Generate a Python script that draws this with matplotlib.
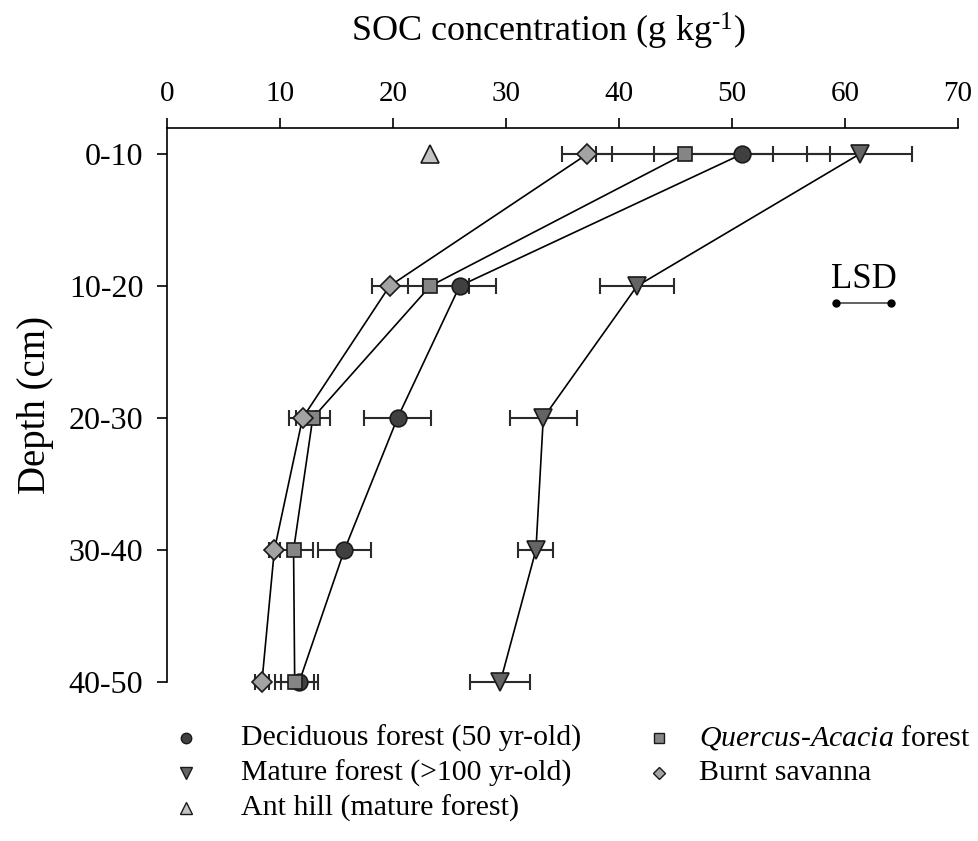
import numpy as np
import matplotlib
matplotlib.use('Agg')
import matplotlib.pyplot as plt
from matplotlib.lines import Line2D

# шрифт как у Times
plt.rcParams['font.family'] = ['Liberation Serif', 'DejaVu Serif']
plt.rcParams['mathtext.fontset'] = 'custom'
plt.rcParams['mathtext.rm'] = 'Liberation Serif'
plt.rcParams['mathtext.it'] = 'Liberation Serif:italic'

depth_labels = ['0-10', '10-20', '20-30', '30-40', '40-50']
depth_mid = [5, 15, 25, 35, 45]

deciduous = [50.9, 25.9, 20.4, 15.7, 11.7]
deciduous_err = [7.8, 3.25, 3.0, 2.35, 1.65]
mature = [61.3, 41.6, 33.3, 32.65, 29.5]
mature_err = [4.65, 3.25, 2.95, 1.55, 2.65]
quercus = [45.8, 23.3, 12.9, 11.2, 11.3]
quercus_err = [7.8, 3.4, 1.5, 1.7, 1.7]
savanna = [37.2, 19.7, 12.0, 9.5, 8.4]
savanna_err = [2.2, 1.6, 1.2, 0.5, 0.65]
ant_hill = [23.3]
ant_hill_depth = [5]

lsd_value = 4.9
lsd_x = 59.2
lsd_y = 16.3

fig = plt.figure(figsize=(9.79, 8.41), dpi=100)
ax = fig.add_axes([0.1706, 0.1891, 0.8079, 0.6587])

series = [
    (deciduous, deciduous_err, 'o', '#404040', 12, 'Deciduous forest (50 yr-old)'),
    (mature, mature_err, 'v', '#646464', 13, 'Mature forest (>100 yr-old)'),
    (quercus, quercus_err, 's', '#858585', 10, r'$\it{Quercus}$-$\it{Acacia}$ forest'),
    (savanna, savanna_err, 'D', '#a3a3a3', 10, 'Burnt savanna'),
]

for vals, err, mk, col, ms, lab in series:
    ax.plot(vals, depth_mid, color='black', lw=1.2, zorder=2, clip_on=False)
    eb = ax.errorbar(vals, depth_mid, xerr=err, fmt='none', ecolor='#2a2a2a',
                     elinewidth=1.5, capsize=6, capthick=1.5, zorder=3)
    for c in eb.get_children():
        c.set_clip_on(False)

for vals, err, mk, col, ms, lab in series:
    ax.plot(vals, depth_mid, ls='none', marker=mk, ms=ms, mfc=col,
            mec='#1a1a1a', mew=1.2, zorder=5, clip_on=False)

ax.plot(ant_hill, ant_hill_depth, ls='none', marker='^', ms=13, mfc='#c4c4c4',
        mec='#1a1a1a', mew=1.2, zorder=5, clip_on=False)

# LSD
ax.plot([lsd_x, lsd_x + lsd_value], [lsd_y, lsd_y], color='#555555', lw=1.3, zorder=4)
ax.plot([lsd_x, lsd_x + lsd_value], [lsd_y, lsd_y], ls='none',
        marker='o', ms=5, mfc='black', mec='black', zorder=5)
ax.text(lsd_x + lsd_value / 2, 15.15, 'LSD', ha='center', va='baseline', fontsize=25)

ax.set_xlim(0, 70)
ax.set_ylim(45, 3.03)
ax.set_xticks(np.arange(0, 71, 10))
ax.set_yticks(depth_mid)
ax.set_yticklabels(depth_labels)
ax.xaxis.tick_top()
ax.xaxis.set_label_position('top')
ax.spines['right'].set_visible(False)
ax.spines['bottom'].set_visible(False)
ax.spines['left'].set_bounds(45, 3.03)
ax.tick_params(axis='both', direction='out', length=7, width=1.2)
ax.tick_params(axis='x', labelsize=21, pad=8)
ax.tick_params(axis='y', labelsize=23, pad=10)
for s in ['top', 'left']:
    ax.spines[s].set_linewidth(1.2)

ax.set_xlabel(r'SOC concentration (g kg$^{\text{-1}}$)', fontsize=26)
ax.xaxis.set_label_coords(0.482, 1.155)
ax.set_ylabel('Depth (cm)', fontsize=28)
ax.yaxis.set_label_coords(-0.143, 0.5)

# легенда вручную
legend_rows = [0.1225, 0.0809, 0.0392]
col1 = [
    ('o', '#404040', 7.5, 'Deciduous forest (50 yr-old)'),
    ('v', '#646464', 8, 'Mature forest (>100 yr-old)'),
    ('^', '#c4c4c4', 8, 'Ant hill (mature forest)'),
]
col2 = [
    ('s', '#858585', 6.5, r'$\it{Quercus}$-$\it{Acacia}$ forest'),
    ('D', '#a3a3a3', 6.5, 'Burnt savanna'),
]
for (xm, xt), entries in [((0.190, 0.246), col1), ((0.673, 0.714), col2)]:
    for (mk, col, ms, lab), yy in zip(entries, legend_rows):
        fig.add_artist(Line2D([xm], [yy], transform=fig.transFigure, ls='none', marker=mk,
                              ms=ms, mfc=col, mec='#1a1a1a', mew=1))
        fig.text(xt, yy, lab, fontsize=21.5, va='center', ha='left')

fig.savefig('out.png', dpi=100)
